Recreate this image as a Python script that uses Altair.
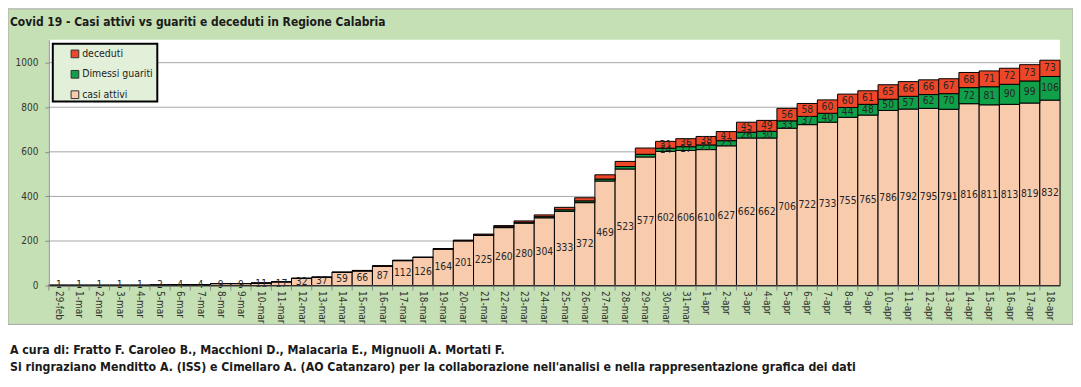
import altair as alt
import pandas as pd

cats = ["29-feb"] + [f"{d}-mar" for d in range(1, 32)] + [f"{d}-apr" for d in range(1, 19)]

casi_attivi = [1, 1, 1, 1, 1, 2, 4, 4, 9, 9, 11, 17, 32, 37, 59, 66, 87, 112, 126, 164,
               201, 225, 260, 280, 304, 333, 372, 469, 523, 577, 602, 606,
               610, 627, 662, 662, 706, 722, 733, 755, 765, 786, 792, 795, 791, 816, 811, 813, 819, 832]
dimessi_guariti = [0, 0, 0, 0, 0, 0, 0, 0, 0, 0, 0, 0, 0, 0, 0, 0, 0, 0, 0, 0,
                   0, 2, 4, 4, 5, 7, 8, 9, 11, 12, 14, 17,
                   21, 23, 26, 30, 33, 37, 40, 44, 48, 50, 57, 62, 70, 72, 81, 90, 99, 106]
deceduti = [0, 0, 0, 0, 0, 0, 0, 0, 0, 0, 0, 0, 1, 1, 2, 2, 2, 2, 2, 2,
            3, 4, 5, 6, 8, 11, 14, 19, 23, 28, 31, 36,
            38, 41, 45, 49, 56, 58, 60, 60, 61, 65, 66, 66, 67, 68, 71, 72, 73, 73]

series = ["deceduti", "Dimessi guariti", "casi attivi"]
colors = ["#ee4628", "#10a04a", "#f8cbad"]
y_ticks = [0, 200, 400, 600, 800, 1000]

title_text = "Covid 19 - Casi attivi vs guariti e deceduti in Regione Calabria"
footer_1 = "A cura di: Fratto F. Caroleo B., Macchioni D., Malacaria E., Mignuoli A. Mortati F."
footer_2 = ("Si ringraziano Menditto A. (ISS) e Cimellaro A. (AO Catanzaro) per la collaborazione "
            "nell'analisi e nella rappresentazione grafica dei dati")

FONT = "DejaVu Sans Condensed, Roboto Condensed, Lato, sans-serif"
W, H = 1016, 247

rows = []
for i, c in enumerate(cats):
    for order, (s, vals) in enumerate([("casi attivi", casi_attivi), ("Dimessi guariti", dimessi_guariti), ("deceduti", deceduti)]):
        rows.append({"cat": c, "idx": i, "serie": s, "ord": order, "val": vals[i]})
df = pd.DataFrame(rows)

yscale = alt.Scale(domain=[0, 1103], nice=False, zero=True)
xscale = alt.Scale(paddingInner=0, paddingOuter=0)
xaxis = alt.Axis(title=None, labelAngle=90, ticks=False, labelPadding=5, labelFontSize=10,
                 labelColor="#333333", labelFont=FONT, domainColor="#595959", zindex=1,
                 labelOverlap=False)
yaxis = alt.Axis(title=None, values=y_ticks, format="d", grid=False, tickSize=4, tickColor="#8c8c8c",
                 domainColor="#8c8c8c", labelPadding=7, labelFontSize=10, labelColor="#333333",
                 labelFont=FONT, zindex=1)

base = alt.Chart(df).transform_stack(
    stack="val", groupby=["cat"], as_=["y0", "y1"], sort=[alt.SortField("ord", order="ascending")]
)

one = pd.DataFrame({"a": [0]})

green_bg = alt.Chart(one).mark_rect(
    fill="#c5e0b4", stroke="#a6a6a6", strokeWidth=1, clip=False
).encode(x=alt.value(-41), x2=alt.value(W + 13), y=alt.value(-31), y2=alt.value(H + 39))

white_plot = alt.Chart(one).mark_rect(fill="white", clip=False).encode(
    x=alt.value(0), x2=alt.value(W), y=alt.value(0), y2=alt.value(H)
)

grid = alt.Chart(pd.DataFrame({"v": y_ticks[1:]})).mark_rule(color="#a6a6a6", strokeWidth=1).encode(
    y=alt.Y("v:Q", scale=yscale, axis=yaxis)
)

bars = base.mark_bar(stroke="black", strokeWidth=1, opacity=1).encode(
    x=alt.X("cat:N", sort=cats, scale=xscale, axis=xaxis),
    y=alt.Y("y1:Q", scale=yscale, axis=yaxis),
    y2="y0:Q",
    color=alt.Color("serie:N", scale=alt.Scale(domain=series, range=colors),
                    legend=alt.Legend(title=None, orient="none", legendX=21, legendY=9,
                                      symbolType="square", symbolSize=60, symbolStrokeColor="#333333",
                                      symbolStrokeWidth=1, labelFontSize=10.5, labelFont=FONT,
                                      labelColor="#222222", rowPadding=7.5, padding=0, labelOffset=2,
                                      zindex=2)),
    order=alt.Order("ord:Q"),
)

labels = base.transform_calculate(mid="(datum.y0 + datum.y1) / 2").transform_filter(
    "datum.serie == 'casi attivi' || datum.idx >= 30"
).mark_text(fontSize=10.3, font=FONT, color="#262626", baseline="middle").encode(
    x=alt.X("cat:N", sort=cats, scale=xscale, axis=xaxis),
    y=alt.Y("mid:Q", scale=yscale, axis=yaxis),
    text=alt.Text("val:Q"),
)

ticks = alt.Chart(pd.DataFrame({"cat": cats})).mark_rule(color="#8c8c8c").encode(
    x=alt.X("cat:N", sort=cats, scale=xscale, axis=xaxis, bandPosition=0),
    y=alt.value(H), y2=alt.value(H + 5),
)

legend_box = alt.Chart(one).mark_rect(
    fill="#e2f0d9", stroke="black", strokeWidth=2
).encode(x=alt.value(4), x2=alt.value(109), y=alt.value(4), y2=alt.value(62))

title = alt.Chart(pd.DataFrame({"t": [title_text]})).mark_text(
    align="left", baseline="middle", fontSize=12, fontWeight="bold", font=FONT, color="#1a1a1a", clip=False
).encode(x=alt.value(-39), y=alt.value(-18), text="t:N")

foot1 = alt.Chart(pd.DataFrame({"t": [footer_1]})).mark_text(
    align="left", baseline="middle", fontSize=12.3, fontWeight="bold", font=FONT, color="#1a1a1a", clip=False
).encode(x=alt.value(-39), y=alt.value(H + 65), text="t:N")

foot2 = alt.Chart(pd.DataFrame({"t": [footer_2]})).mark_text(
    align="left", baseline="middle", fontSize=12.3, fontWeight="bold", font=FONT, color="#1a1a1a", clip=False
).encode(x=alt.value(-39), y=alt.value(H + 82), text="t:N")

chart = alt.layer(green_bg, white_plot, grid, bars, ticks, labels, legend_box, title, foot1, foot2).properties(
    width=W, height=H,
    autosize=alt.AutoSizeParams(type="none"),
    padding={"left": 41, "top": 31, "right": 13, "bottom": 92},
    background="white",
).configure_view(stroke=None)

chart.save("out.html", embed_options={"renderer": "svg", "actions": False})
